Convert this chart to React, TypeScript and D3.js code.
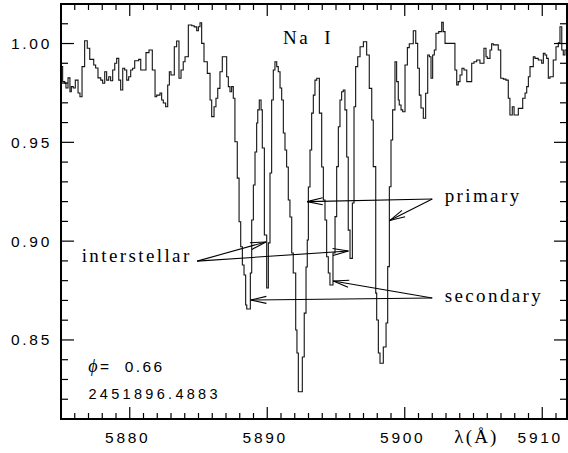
import React, { useEffect, useRef } from 'react';
import * as d3 from 'd3';

// spectrum: start wavelength of each pixel (Å) and normalised flux
const wavelength = [
  5875.00, 5875.12, 5875.27, 5875.36, 5875.51, 5875.65, 5875.75, 5875.89, 5876.04, 5876.24,
  5876.38, 5876.53, 5876.72, 5876.91, 5877.09, 5877.38, 5877.52, 5877.69, 5877.89, 5878.03,
  5878.18, 5878.32, 5878.47, 5878.61, 5878.76, 5878.91, 5879.05, 5879.20, 5879.34, 5879.49,
  5879.63, 5879.78, 5879.92, 5880.07, 5880.21, 5880.36, 5880.65, 5880.80, 5881.18, 5881.40,
  5881.64, 5881.84, 5881.96, 5882.20, 5882.32, 5882.44, 5882.61, 5882.76, 5882.88, 5883.00,
  5883.24, 5883.41, 5883.58, 5883.73, 5883.89, 5884.02, 5884.26, 5884.51, 5884.69, 5884.87,
  5884.99, 5885.11, 5885.23, 5885.40, 5885.64, 5885.84, 5885.96, 5886.13, 5886.27, 5886.40,
  5886.56, 5886.73, 5887.05, 5887.17, 5887.29, 5887.41, 5887.53, 5887.65, 5887.82, 5887.95,
  5888.07, 5888.19, 5888.31, 5888.43, 5888.51, 5888.77, 5888.87, 5888.99, 5889.11, 5889.23,
  5889.31, 5889.42, 5889.55, 5889.64, 5889.79, 5889.96, 5890.08, 5890.20, 5890.32, 5890.44,
  5890.56, 5890.69, 5890.80, 5890.93, 5891.05, 5891.17, 5891.29, 5891.41, 5891.53, 5891.65,
  5891.78, 5891.89, 5892.07, 5892.16, 5892.26, 5892.55, 5892.69, 5892.82, 5892.91, 5892.99,
  5893.11, 5893.23, 5893.35, 5893.47, 5893.60, 5893.79, 5893.96, 5894.08, 5894.20, 5894.32,
  5894.44, 5894.56, 5894.78, 5894.93, 5895.05, 5895.17, 5895.29, 5895.41, 5895.53, 5895.65,
  5895.78, 5895.89, 5896.02, 5896.19, 5896.31, 5896.43, 5896.58, 5896.75, 5896.99, 5897.23,
  5897.42, 5897.60, 5897.71, 5897.89, 5897.96, 5898.08, 5898.20, 5898.44, 5898.64, 5898.76,
  5898.88, 5899.00, 5899.12, 5899.29, 5899.41, 5899.53, 5899.60, 5899.73, 5899.85, 5900.02,
  5900.19, 5900.33, 5900.62, 5900.80, 5900.94, 5901.06, 5901.18, 5901.35, 5901.52, 5901.67,
  5901.79, 5901.91, 5902.03, 5902.15, 5902.27, 5902.47, 5902.69, 5902.80, 5902.93, 5903.65,
  5903.78, 5903.89, 5904.02, 5904.16, 5904.31, 5904.51, 5904.87, 5905.04, 5905.23, 5905.47,
  5905.76, 5905.91, 5906.00, 5906.20, 5906.32, 5906.44, 5906.80, 5906.98, 5907.17, 5907.36,
  5907.53, 5907.65, 5907.82, 5907.95, 5908.26, 5908.58, 5908.75, 5908.87, 5908.99, 5909.11,
  5909.35, 5909.47, 5909.71, 5909.96, 5910.08, 5910.20, 5910.32, 5910.44, 5910.56, 5910.80,
  5911.00, 5911.17, 5911.29, 5911.42, 5911.53, 5911.65,
];

const flux = [
  0.9883, 0.9807, 0.9800, 0.9775, 0.9826, 0.9756, 0.9782, 0.9775, 0.9815, 0.9750,
  0.9731, 0.9883, 1.0014, 0.9976, 0.9920, 0.9891, 0.9876, 0.9826, 0.9815, 0.9799,
  0.9857, 0.9815, 0.9832, 0.9812, 0.9866, 0.9900, 0.9925, 0.9815, 0.9765, 0.9875,
  0.9866, 0.9815, 0.9832, 0.9866, 0.9875, 0.9913, 0.9920, 0.9866, 0.9954, 0.9967,
  0.9866, 0.9731, 0.9739, 0.9750, 0.9714, 0.9699, 0.9680, 0.9790, 0.9857, 0.9841,
  0.9984, 1.0013, 0.9824, 0.9866, 0.9908, 0.9933, 1.0094, 1.0090, 1.0084, 1.0065,
  1.0085, 1.0105, 1.0001, 0.9908, 0.9849, 0.9714, 0.9630, 0.9680, 0.9723, 0.9773,
  0.9857, 0.9933, 0.9832, 0.9782, 0.9756, 0.9782, 0.9723, 0.9503, 0.9319, 0.9098,
  0.8972, 0.8879, 0.8829, 0.8677, 0.8657, 0.8839, 0.9107, 0.9284, 0.9451, 0.9598,
  0.9664, 0.9714, 0.9664, 0.9471, 0.9031, 0.8763, 0.8991, 0.9345, 0.9714, 0.9866,
  0.9908, 0.9883, 0.9857, 0.9775, 0.9714, 0.9547, 0.9461, 0.9375, 0.9208, 0.9122,
  0.8940, 0.8839, 0.8550, 0.8434, 0.8238, 0.8414, 0.8636, 0.8869, 0.9006, 0.9274,
  0.9461, 0.9648, 0.9739, 0.9815, 0.9824, 0.9648, 0.9375, 0.9208, 0.9107, 0.8921,
  0.8839, 0.8778, 0.8940, 0.9124, 0.9377, 0.9579, 0.9714, 0.9756, 0.9765, 0.9664,
  0.9426, 0.9056, 0.8913, 0.9193, 0.9680, 0.9883, 0.9933, 0.9984, 1.0009, 0.9942,
  0.9773, 0.9613, 0.9377, 0.8737, 0.8601, 0.8434, 0.8382, 0.8464, 0.8586, 0.8871,
  0.9275, 0.9512, 0.9664, 0.9908, 0.9807, 0.9714, 0.9689, 0.9664, 0.9655, 0.9891,
  0.9979, 0.9999, 1.0065, 1.0001, 0.9875, 0.9739, 0.9674, 0.9622, 0.9748, 0.9942,
  0.9933, 0.9824, 0.9942, 0.9967, 1.0052, 1.0060, 1.0107, 1.0060, 1.0001, 0.9866,
  0.9790, 0.9807, 0.9841, 0.9875, 0.9866, 0.9807, 0.9900, 0.9908, 0.9917, 0.9900,
  0.9976, 0.9933, 0.9925, 0.9967, 0.9999, 0.9993, 0.9967, 0.9824, 0.9820, 0.9815,
  0.9723, 0.9638, 0.9680, 0.9638, 0.9672, 0.9723, 0.9750, 0.9782, 0.9832, 0.9883,
  0.9933, 0.9925, 0.9917, 0.9900, 0.9951, 0.9942, 0.9925, 0.9824, 0.9832, 0.9917,
  0.9984, 1.0004, 1.0085, 0.9967, 0.9942, 0.9967,
];

const xDomain = [5875, 5911.8];
const yDomain = [0.81, 1.02];
const xMajorTicks = [5880, 5890, 5900, 5910];
const yMajorTicks = [0.85, 0.9, 0.95, 1.0];

// arrow labels: text, where the text starts, arrow tail and arrow tips (data units)
const labels = [
  { text: 'interstellar', at: [5876.5, 0.8893], tail: [5884.9, 0.8899], tips: [[5889.9, 0.8996], [5895.9, 0.8950]] },
  { text: 'primary', at: [5902.9, 0.9196], tail: [5902.0, 0.9213], tips: [[5892.9, 0.9200], [5898.9, 0.9104]] },
  { text: 'secondary', at: [5902.9, 0.8694], tail: [5902.0, 0.8712], tips: [[5888.8, 0.8702], [5894.8, 0.8798]] },
];

const phase = '0.66';
const julianDate = '2451896.4883';

const App = () => {
  const svgRef = useRef<SVGSVGElement>(null);

  useEffect(() => {
    const width = 568;
    const height = 453;
    const m = { left: 61, right: 1, top: 4, bottom: 34 };

    const svg = d3.select(svgRef.current);
    svg.selectAll('*').remove();
    svg.attr('width', width).attr('height', height);

    const x = d3.scaleLinear().domain(xDomain).range([m.left, width - m.right]);
    const y = d3.scaleLinear().domain(yDomain).range([height - m.bottom, m.top]);
    const [x0, x1] = x.range();
    const [y0, y1] = y.range();

    const sans = '"Liberation Sans", Arial, sans-serif';
    const serif = '"Liberation Serif", "Times New Roman", serif';

    // spectrum as a histogram-style step line
    const pts: [number, number][] = wavelength.map((w, i) => [w, flux[i]]);
    pts.push([xDomain[1], flux[flux.length - 1]]);
    const line = d3.line<[number, number]>()
      .x(d => x(d[0]))
      .y(d => y(d[1]))
      .curve(d3.curveStepAfter);

    svg.append('defs').append('clipPath').attr('id', 'plot')
      .append('rect').attr('x', x0).attr('y', y1).attr('width', x1 - x0).attr('height', y0 - y1);

    svg.append('path')
      .datum(pts)
      .attr('d', line)
      .attr('clip-path', 'url(#plot)')
      .attr('fill', 'none')
      .attr('stroke', '#111')
      .attr('stroke-width', 1.1);

    // ticks on all four sides, pointing inwards
    const ticks = svg.append('g').attr('stroke', '#000').attr('stroke-width', 1.2);
    const xMinor = d3.range(5876, 5912, 1);
    xMinor.forEach(v => {
      const len = xMajorTicks.includes(v) ? 12 : 6;
      ticks.append('line').attr('x1', x(v)).attr('x2', x(v)).attr('y1', y0).attr('y2', y0 - len);
      ticks.append('line').attr('x1', x(v)).attr('x2', x(v)).attr('y1', y1).attr('y2', y1 + len);
    });
    const yMinor = d3.range(82, 102, 1).map(v => v / 100);
    yMinor.forEach(v => {
      const len = yMajorTicks.some(t => Math.abs(t - v) < 1e-6) ? 13 : 7;
      ticks.append('line').attr('x1', x0).attr('x2', x0 + len).attr('y1', y(v)).attr('y2', y(v));
      ticks.append('line').attr('x1', x1).attr('x2', x1 - len).attr('y1', y(v)).attr('y2', y(v));
    });

    svg.append('rect')
      .attr('x', x0).attr('y', y1)
      .attr('width', x1 - x0).attr('height', y0 - y1)
      .attr('fill', 'none').attr('stroke', '#000').attr('stroke-width', 2);

    // tick labels
    svg.append('g').selectAll('text')
      .data(xMajorTicks)
      .join('text')
      .attr('x', d => x(d) - 2)
      .attr('y', y0 + 24)
      .attr('text-anchor', 'middle')
      .attr('font-family', sans).attr('font-size', 15.5).attr('letter-spacing', 2.7)
      .text(d => d3.format('d')(d));

    svg.append('g').selectAll('text')
      .data(yMajorTicks)
      .join('text')
      .attr('x', x0 - 9)
      .attr('y', d => y(d) + 5.5)
      .attr('text-anchor', 'end')
      .attr('font-family', sans).attr('font-size', 15.5).attr('letter-spacing', 2.7)
      .text(d => d3.format('.2f')(d));

    svg.append('text')
      .attr('x', x(5903.6)).attr('y', y0 + 24)
      .attr('font-family', serif).attr('font-size', 19).attr('letter-spacing', 2.2)
      .text('λ(Å)');

    svg.append('text')
      .attr('x', x(5891.15)).attr('y', y(1.0) + 0.5)
      .attr('font-family', serif).attr('font-size', 19).attr('letter-spacing', 2.4)
      .style('white-space', 'pre')
      .text('Na  I');

    // phase and date
    const ph = svg.append('text')
      .attr('x', x(5876.98)).attr('y', y(0.8338))
      .attr('font-family', sans).attr('font-size', 15.5).attr('letter-spacing', 2.4)
      .style('white-space', 'pre');
    ph.append('tspan').attr('font-family', serif).attr('font-style', 'italic').attr('font-size', 18).text('ϕ');
    ph.append('tspan').text(`=  ${phase}`);

    svg.append('text')
      .attr('x', x(5877.0)).attr('y', y(0.8199))
      .attr('font-family', sans).attr('font-size', 14.5).attr('letter-spacing', 3.3)
      .text(julianDate);

    // arrows
    const arrows = svg.append('g').attr('stroke', '#000').attr('stroke-width', 1.1).attr('fill', 'none');
    labels.forEach(l => {
      const tx = x(l.tail[0]);
      const ty = y(l.tail[1]);
      l.tips.forEach(tip => {
        const px = x(tip[0]);
        const py = y(tip[1]);
        arrows.append('line').attr('x1', tx).attr('y1', ty).attr('x2', px).attr('y2', py);
        const ang = Math.atan2(ty - py, tx - px);
        const len = 16;
        const spread = 0.22;
        [ang - spread, ang + spread].forEach(a => {
          arrows.append('line')
            .attr('x1', px).attr('y1', py)
            .attr('x2', px + len * Math.cos(a)).attr('y2', py + len * Math.sin(a));
        });
      });
      svg.append('text')
        .attr('x', x(l.at[0])).attr('y', y(l.at[1]))
        .attr('font-family', serif).attr('font-size', 19).attr('letter-spacing', 2.4)
        .text(l.text);
    });
  }, []);

  return (
    <svg ref={svgRef} style={{ position: 'absolute', left: 0, top: 0, background: '#fff' }} />
  );
};

export default App;
